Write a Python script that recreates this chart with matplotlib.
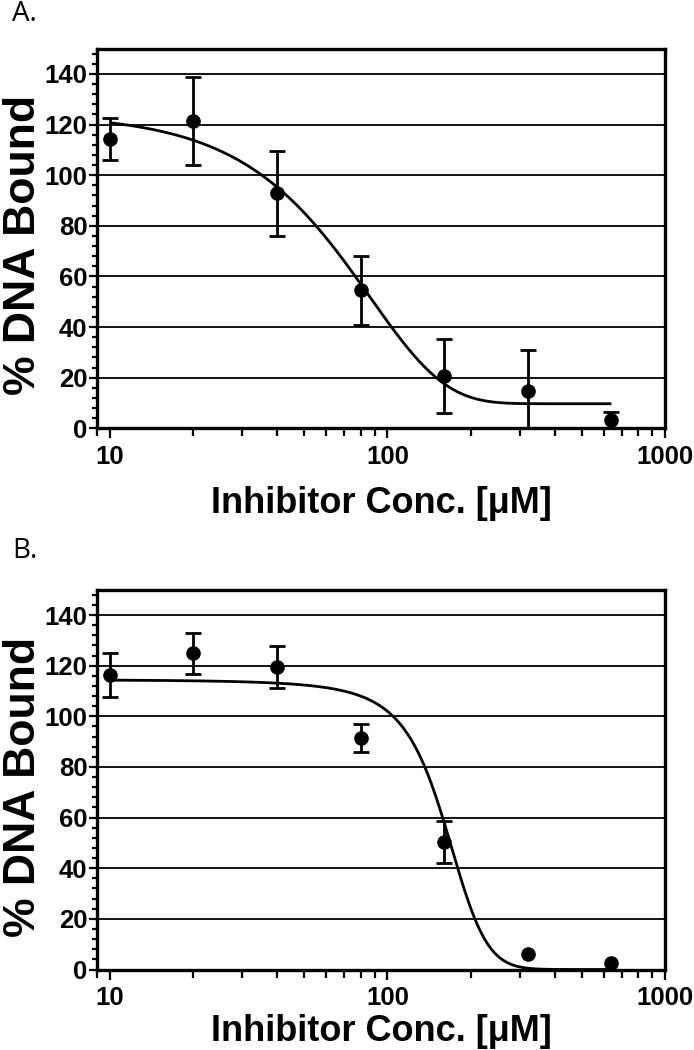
import numpy as np
import matplotlib
matplotlib.use("Agg")
import matplotlib.pyplot as plt
from matplotlib.ticker import MultipleLocator, LogLocator, NullFormatter, FixedLocator, FixedFormatter

# ---------------- data ----------------
conc = [10, 20, 40, 80, 160, 320, 640]

a_mean = [114.1, 121.3, 92.8, 54.6, 20.6, 14.7, 3.2]
a_err = [8.3, 17.4, 16.9, 13.6, 14.5, 16.3, 3.2]

b_mean = [116.3, 124.9, 119.6, 91.3, 50.5, 6.1, 2.6]
b_err = [8.8, 8.0, 8.3, 5.5, 8.3, 0.0, 0.0]

# fitted-curve parameters
a_fit_bottom, a_fit_span, a_fit_k, a_fit_p = 9.7, 114.6, 86.5, 1.6
b_fit_bottom, b_fit_top, b_fit_v50, b_fit_slope = 0.0, 115.0, 160.6, 29.4

xticks = [10, 100, 1000]
xticklabels = ["10", "100", "1000"]
yticks = [0, 20, 40, 60, 80, 100, 120, 140]
yticklabels = [str(v) for v in yticks]
panel_labels = ["A.", "B."]
xlabel = "Inhibitor Conc. [\u03bcM]"
ylabel = "% DNA Bound"

# ---------------- figure ----------------
W, H = 694, 1050
fig = plt.figure(figsize=(W / 100, H / 100), dpi=100)
bold = dict(family=["Liberation Sans", "DejaVu Sans"], weight="bold")


def fitA(x):
    x = np.asarray(x, float)
    return a_fit_bottom + a_fit_span * np.exp(-(x / a_fit_k) ** a_fit_p)


def fitB(x):
    x = np.asarray(x, float)
    return b_fit_bottom + (b_fit_top - b_fit_bottom) / (1 + np.exp((x - b_fit_v50) / b_fit_slope))


def make_panel(rect, mean, err, fitfun, label, label_y, xlabelpad):
    ax = fig.add_axes(rect)
    ax.set_xscale("log")
    ax.set_xlim(9.0, 1000)
    ax.set_ylim(0, 150)

    # grid
    for v in yticks[1:]:
        ax.axhline(v, color="black", lw=1.3, zorder=1)

    # fitted curve
    xs = np.geomspace(conc[0], conc[-1], 500)
    ax.plot(xs, fitfun(xs), color="black", lw=2.0, zorder=3, solid_capstyle="butt")

    # error bars
    xe = [c for c, e in zip(conc, err) if e > 0]
    ye = [m for m, e in zip(mean, err) if e > 0]
    ee = [e for e in err if e > 0]
    ax.errorbar(xe, ye, yerr=ee, fmt="none", ecolor="black", elinewidth=2.0,
                capsize=6.0, capthick=2.0, zorder=4)
    # markers
    ax.plot(conc, mean, "o", color="black", ms=9.5, zorder=6, clip_on=False)

    for s in ax.spines.values():
        s.set_linewidth(2.4)
        s.set_zorder(5)

    ax.yaxis.set_major_locator(FixedLocator(yticks))
    ax.yaxis.set_major_formatter(FixedFormatter(yticklabels))
    ax.yaxis.set_minor_locator(MultipleLocator(4))
    ax.xaxis.set_major_locator(FixedLocator(xticks))
    ax.xaxis.set_major_formatter(FixedFormatter(xticklabels))
    ax.xaxis.set_minor_locator(LogLocator(base=10, subs=np.arange(2, 10)))
    ax.xaxis.set_minor_formatter(NullFormatter())

    ax.tick_params(axis="y", which="major", direction="out", length=6, width=1.6, pad=1)
    ax.tick_params(axis="y", which="minor", direction="out", length=3.5, width=1.6)
    ax.tick_params(axis="x", which="major", direction="out", length=7, width=1.6, pad=5)
    ax.tick_params(axis="x", which="minor", direction="out", length=5.5, width=1.6)
    ax.tick_params(right=False, top=False)
    for t in ax.get_xticklabels() + ax.get_yticklabels():
        t.set_fontfamily(bold["family"])
        t.set_fontweight("bold")
        t.set_fontsize(18.5)

    ax.set_xlabel(xlabel, fontsize=26, labelpad=xlabelpad, **bold)
    ax.set_ylabel(ylabel, fontsize=32, **bold)
    ax.yaxis.set_label_coords(-0.094, 0.482)

    fig.text(12 / W, 1 - label_y / H, label, fontsize=20,
             family=["Open Sans", "DejaVu Sans"], va="top", ha="left")
    return ax


left = 97 / W
width = (665.2 - 97) / W
hgt = (428.3 - 48.6) / H
axA = make_panel([left, 1 - 428.3 / H, width, hgt], a_mean, a_err, fitA,
                 panel_labels[0], 0, 12)
axB = make_panel([left, 1 - 969.5 / H, width, hgt], b_mean, b_err, fitB,
                 panel_labels[1], 537, 3)

fig.savefig("out.png", dpi=100, facecolor="white")
